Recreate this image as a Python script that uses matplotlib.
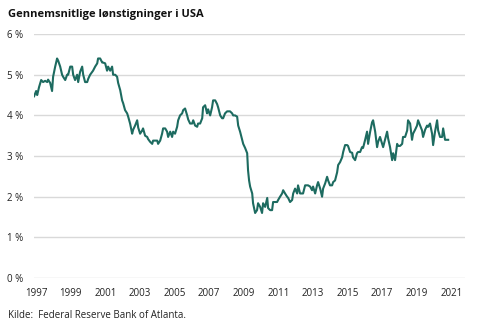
import matplotlib
matplotlib.use("Agg")
import matplotlib.pyplot as plt

# Wage growth tracker (decimal year, percent)
t = [1996.88, 1997.00, 1997.06, 1997.17, 1997.29, 1997.40, 1997.52, 1997.64, 1997.69, 1997.81,
     1997.92, 1997.98, 1998.10, 1998.21, 1998.27, 1998.39, 1998.50, 1998.56, 1998.68, 1998.79,
     1998.85, 1998.97, 1999.08, 1999.14, 1999.25, 1999.37, 1999.43, 1999.54, 1999.66, 1999.72,
     1999.83, 1999.95, 2000.01, 2000.12, 2000.24, 2000.29, 2000.41, 2000.53, 2000.58, 2000.70,
     2000.82, 2000.87, 2000.99, 2001.10, 2001.16, 2001.28, 2001.39, 2001.45, 2001.57, 2001.68,
     2001.74, 2001.86, 2001.97, 2002.03, 2002.14, 2002.26, 2002.32, 2002.43, 2002.55, 2002.61,
     2002.72, 2002.84, 2002.90, 2003.01, 2003.13, 2003.18, 2003.30, 2003.42, 2003.47, 2003.59,
     2003.71, 2003.76, 2003.88, 2004.00, 2004.05, 2004.17, 2004.28, 2004.34, 2004.46, 2004.57,
     2004.63, 2004.75, 2004.86, 2004.92, 2005.03, 2005.15, 2005.21, 2005.32, 2005.44, 2005.50,
     2005.61, 2005.73, 2005.79, 2005.90, 2006.02, 2006.08, 2006.19, 2006.31, 2006.36, 2006.48,
     2006.60, 2006.65, 2006.77, 2006.88, 2006.94, 2007.06, 2007.17, 2007.23, 2007.35, 2007.46,
     2007.52, 2007.64, 2007.75, 2007.81, 2007.92, 2008.04, 2008.10, 2008.21, 2008.33, 2008.39,
     2008.50, 2008.62, 2008.68, 2008.79, 2008.97, 2009.08, 2009.20, 2009.25, 2009.31, 2009.37,
     2009.49, 2009.54, 2009.66, 2009.77, 2009.83, 2009.95, 2010.06, 2010.12, 2010.24, 2010.36,
     2010.41, 2010.53, 2010.64, 2010.70, 2010.82, 2010.93, 2010.99, 2011.10, 2011.22, 2011.28,
     2011.39, 2011.51, 2011.57, 2011.68, 2011.80, 2011.86, 2011.97, 2012.09, 2012.14, 2012.26,
     2012.38, 2012.43, 2012.55, 2012.66, 2012.72, 2012.84, 2012.95, 2013.01, 2013.13, 2013.24,
     2013.30, 2013.42, 2013.53, 2013.59, 2013.71, 2013.82, 2013.88, 2013.99, 2014.11, 2014.17,
     2014.28, 2014.40, 2014.46, 2014.57, 2014.69, 2014.75, 2014.86, 2014.98, 2015.03, 2015.15,
     2015.27, 2015.32, 2015.44, 2015.55, 2015.61, 2015.73, 2015.84, 2015.90, 2016.02, 2016.13,
     2016.19, 2016.31, 2016.42, 2016.48, 2016.60, 2016.71, 2016.77, 2016.88, 2017.00, 2017.06,
     2017.17, 2017.29, 2017.35, 2017.46, 2017.58, 2017.64, 2017.75, 2017.87, 2017.92, 2018.04,
     2018.16, 2018.21, 2018.33, 2018.45, 2018.50, 2018.62, 2018.73, 2018.79, 2018.91, 2019.02,
     2019.08, 2019.20, 2019.31, 2019.37, 2019.49, 2019.60, 2019.66, 2019.77, 2019.89, 2019.95,
     2020.06, 2020.18, 2020.24, 2020.35, 2020.47, 2020.53, 2020.64, 2020.76, 2020.82]
wage = [4.47, 4.60, 4.50, 4.70, 4.87, 4.82, 4.85, 4.82, 4.88, 4.80,
        4.60, 4.95, 5.20, 5.40, 5.35, 5.20, 5.00, 4.95, 4.87, 5.00,
        5.00, 5.20, 5.20, 5.00, 4.87, 5.00, 4.82, 5.07, 5.20, 5.00,
        4.82, 4.82, 4.90, 5.00, 5.07, 5.10, 5.20, 5.28, 5.40, 5.40,
        5.30, 5.30, 5.28, 5.10, 5.20, 5.10, 5.20, 5.00, 5.00, 4.95,
        4.80, 4.62, 4.37, 4.30, 4.13, 4.05, 3.97, 3.80, 3.55, 3.65,
        3.75, 3.88, 3.70, 3.55, 3.63, 3.68, 3.50, 3.47, 3.42, 3.35,
        3.30, 3.38, 3.38, 3.38, 3.30, 3.38, 3.55, 3.68, 3.68, 3.60,
        3.47, 3.60, 3.47, 3.60, 3.55, 3.72, 3.88, 4.00, 4.05, 4.13,
        4.17, 4.00, 3.90, 3.80, 3.80, 3.88, 3.75, 3.72, 3.80, 3.80,
        3.93, 4.20, 4.25, 4.05, 4.15, 4.00, 4.20, 4.37, 4.37, 4.28,
        4.20, 4.00, 3.93, 3.93, 4.05, 4.10, 4.10, 4.10, 4.05, 4.00,
        4.00, 3.97, 3.75, 3.60, 3.30, 3.20, 3.07, 2.65, 2.40, 2.25,
        2.08, 1.84, 1.60, 1.67, 1.84, 1.75, 1.60, 1.84, 1.75, 1.97,
        1.72, 1.67, 1.67, 1.87, 1.87, 1.87, 1.92, 2.00, 2.08, 2.16,
        2.08, 2.00, 1.97, 1.87, 1.92, 2.08, 2.20, 2.08, 2.28, 2.08,
        2.08, 2.08, 2.28, 2.28, 2.28, 2.25, 2.16, 2.25, 2.08, 2.28,
        2.36, 2.20, 2.00, 2.20, 2.33, 2.49, 2.40, 2.28, 2.28, 2.36,
        2.40, 2.60, 2.78, 2.85, 2.97, 3.10, 3.27, 3.27, 3.25, 3.10,
        3.08, 2.97, 2.90, 3.07, 3.10, 3.10, 3.22, 3.20, 3.40, 3.60,
        3.30, 3.60, 3.83, 3.88, 3.60, 3.22, 3.35, 3.47, 3.30, 3.22,
        3.40, 3.60, 3.43, 3.22, 2.90, 3.07, 2.90, 3.30, 3.25, 3.25,
        3.30, 3.47, 3.47, 3.63, 3.88, 3.80, 3.40, 3.55, 3.65, 3.75,
        3.88, 3.75, 3.63, 3.47, 3.65, 3.75, 3.72, 3.80, 3.55, 3.27,
        3.60, 3.88, 3.63, 3.47, 3.47, 3.68, 3.40, 3.40, 3.40]

year_ticks = list(range(1997, 2022, 2))
pct_ticks = [0, 1, 2, 3, 4, 5, 6]

plt.rcParams["font.family"] = ["Open Sans", "DejaVu Sans"]

fig = plt.figure(figsize=(4.8, 3.31), dpi=100)
ax = fig.add_axes([0.071, 0.160, 0.898, 0.737])

ax.plot(t, wage, color="#1d6b60", lw=1.5, solid_joinstyle="round")

ax.set_xlim(1996.88, 2021.8)
ax.set_ylim(0, 6)
ax.set_xticks(year_ticks)
ax.set_xticklabels([str(y) for y in year_ticks])
ax.set_yticks(pct_ticks)
ax.set_yticklabels([f"{p} %" for p in pct_ticks])

ax.grid(axis="y", color="#d9d9d9", lw=1.0)
ax.set_axisbelow(True)
for s in ax.spines.values():
    s.set_visible(False)
ax.tick_params(length=0, labelsize=7, colors="#222222")
ax.tick_params(axis="y", pad=8)
ax.tick_params(axis="x", pad=7)

fig.text(0.017, 0.955, "Gennemsnitlige lønstigninger i USA", fontsize=8,
         fontweight="bold", ha="left", va="center", color="#111111")
fig.text(0.017, 0.048, "Kilde:  Federal Reserve Bank of Atlanta.", fontsize=7,
         ha="left", va="center", color="#222222")

fig.savefig("out.png", dpi=100)
